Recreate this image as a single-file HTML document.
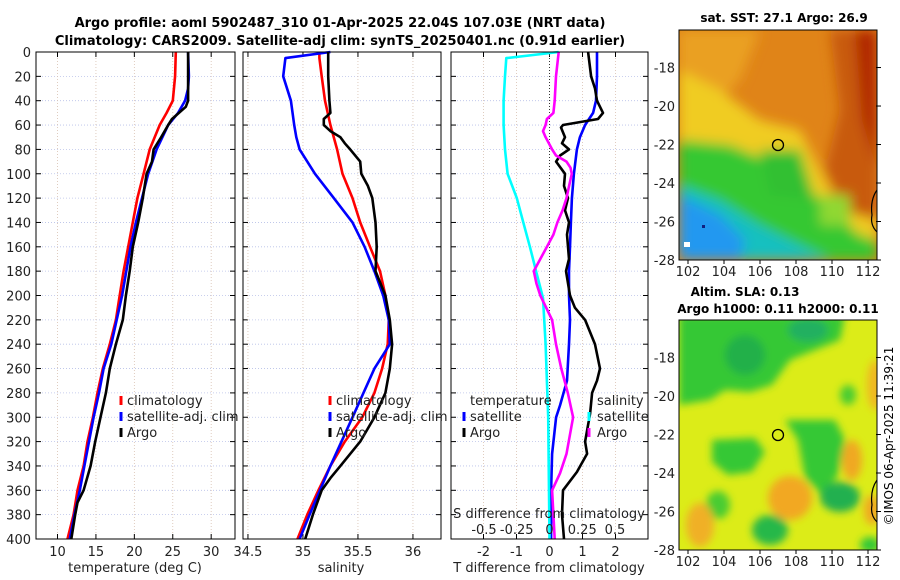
<!DOCTYPE html>
<html><head><meta charset="utf-8">
<style>
html,body{margin:0;padding:0;background:#fff;}
svg{display:block;font-family:"DejaVu Sans","Liberation Sans",sans-serif;}
</style></head>
<body>
<svg id="fig" width="900" height="580" viewBox="0 0 900 580" xmlns="http://www.w3.org/2000/svg">
<defs>
<filter id="blur6" x="-20%" y="-20%" width="140%" height="140%"><feGaussianBlur stdDeviation="6"/></filter>
<filter id="blur4" x="-20%" y="-20%" width="140%" height="140%"><feGaussianBlur stdDeviation="4"/></filter>
<clipPath id="clipM1"><rect x="679" y="30" width="198" height="230"/></clipPath>
<clipPath id="clipM2"><rect x="679" y="320" width="198" height="230"/></clipPath>
</defs>
<text x="340" y="27" font-size="13" font-weight="bold" text-anchor="middle">Argo profile: aoml 5902487_310 01-Apr-2025 22.04S 107.03E (NRT data)</text>
<text x="340" y="45" font-size="13" font-weight="bold" text-anchor="middle">Climatology: CARS2009. Satellite-adj clim: synTS_20250401.nc (0.91d earlier)</text>

<!-- SST map -->
<g clip-path="url(#clipM1)">
<rect x="679" y="30" width="198" height="230" fill="#e08418"/>
<g filter="url(#blur6)">
<polygon points="679,30 760,30 740,80 700,120 679,130" fill="#eaa020"/>
<polygon points="830,30 877,30 877,230 850,220 825,170 840,110" fill="#c85a10"/>
<polygon points="855,30 877,30 877,170 862,120" fill="#b02800"/>
<polygon points="679,70 720,90 760,120 800,130 840,210 877,220 877,250 679,250" fill="#f0cc20"/>
<polygon points="679,140 730,145 790,170 830,210 860,235 877,240 877,260 679,260" fill="#34c830"/>
<polygon points="760,150 800,150 815,200 770,195" fill="#30c030"/>
<polygon points="820,195 850,195 850,225 820,225" fill="#90d830"/>
<polygon points="679,185 720,200 760,225 800,245 830,260 679,260" fill="#18c0c0"/>
<polygon points="679,195 720,215 745,240 740,260 679,260" fill="#2098f0"/>
</g>
<rect x="684" y="242" width="6" height="5" fill="#fff"/>
<rect x="702" y="225" width="3" height="3" fill="#102080"/>
</g>
<rect x="679" y="30" width="198" height="230" fill="none" stroke="#000"/>
<path d="M877,190 Q870,200 872,215 Q870,225 877,232" fill="none" stroke="#000" stroke-width="1.2"/>
<circle cx="778" cy="145" r="5.5" fill="none" stroke="#000" stroke-width="1.3"/>
<text x="784" y="22" font-size="12" font-weight="bold" text-anchor="middle">sat. SST: 27.1 Argo: 26.9</text>

<!-- SLA map -->
<g clip-path="url(#clipM2)">
<rect x="679" y="320" width="198" height="230" fill="#dcec18"/>
<g filter="url(#blur4)">
<polygon points="679,315 845,315 840,340 810,352 790,360 772,385 750,392 725,390 710,400 679,405" fill="#34c834"/>
<ellipse cx="745" cy="355" rx="20" ry="20" fill="#22b048"/>
<ellipse cx="808" cy="330" rx="20" ry="12" fill="#20b060"/>
<polygon points="712,440 755,438 765,452 752,472 728,475 712,462" fill="#34c834"/>
<polygon points="785,420 835,420 845,440 838,475 822,495 805,478 798,440" fill="#34c834"/>
<ellipse cx="840" cy="497" rx="20" ry="15" fill="#22b050"/>
<ellipse cx="770" cy="530" rx="18" ry="15" fill="#28b848"/>
<ellipse cx="718" cy="505" rx="12" ry="14" fill="#48cc30"/>
<ellipse cx="848" cy="395" rx="8" ry="10" fill="#48cc30"/>
<ellipse cx="790" cy="498" rx="22" ry="22" fill="#f2a820"/>
<ellipse cx="700" cy="525" rx="14" ry="22" fill="#f0b028"/>
<ellipse cx="852" cy="460" rx="10" ry="20" fill="#f0a820"/>
<ellipse cx="875" cy="385" rx="8" ry="25" fill="#f0b820"/>
<ellipse cx="872" cy="510" rx="8" ry="15" fill="#f0a820"/>
<ellipse cx="870" cy="545" rx="10" ry="8" fill="#30c838"/>
</g>
</g>
<rect x="679" y="320" width="198" height="230" fill="none" stroke="#000"/>
<path d="M877,480 Q870,490 872,505 Q870,515 877,522" fill="none" stroke="#000" stroke-width="1.2"/>
<circle cx="778" cy="435" r="5.5" fill="none" stroke="#000" stroke-width="1.3"/>
<text x="745" y="296" font-size="12" font-weight="bold" text-anchor="middle">Altim. SLA: 0.13</text>
<text x="778" y="313" font-size="12" font-weight="bold" text-anchor="middle">Argo h1000: 0.11 h2000: 0.11</text>
<text transform="translate(893,436) rotate(-90)" font-size="12" text-anchor="middle">©IMOS 06-Apr-2025 11:39:21</text>

<g id="dyn"></g>
</svg>
<script>
// ---- data ----
const depthTicks = [0,20,40,60,80,100,120,140,160,180,200,220,240,260,280,300,320,340,360,380,400];
const tempTicks = [10,15,20,25,30];
const salTicks = [34.5,35,35.5,36];
const salTickLabels = ["34.5","35","35.5","36"];
const tdiffTicks = [-2,-1,0,1,2];
const sdiffTicks = [-0.5,-0.25,0,0.25,0.5];
const sdiffTickLabels = ["-0.5","-0.25","0","0.25","0.5"];
const lonTicks = [102,104,106,108,110,112];
const latTicks = [-18,-20,-22,-24,-26,-28];

const tClimDepth = [0,20,40,50,60,80,100,120,140,160,180,200,220,240,260,280,300,320,340,360,380,400];
const tClim = [25.4,25.3,25.0,24.2,23.3,22.0,21.2,20.4,19.8,19.2,18.6,18.1,17.6,16.8,15.9,15.2,14.6,13.9,13.4,12.6,12.1,11.3];
const tSatDepth = [0,20,30,40,50,60,80,100,120,140,160,200,240,260,280,300,340,360,380,400];
const tSat = [27.0,27.1,27.0,26.6,25.7,24.4,22.9,21.8,21.0,20.2,19.5,18.4,17.0,16.0,15.4,14.7,13.5,12.9,12.2,11.6];
const tArgoDepth = [0,40,45,55,60,70,80,90,100,120,140,160,180,200,220,240,260,280,300,320,340,360,370,380,400];
const tArgo = [27.0,27.0,26.7,24.9,24.4,23.5,22.5,22.3,21.6,21.1,20.5,19.8,19.4,18.9,18.5,17.6,16.8,16.3,15.6,14.9,14.3,13.4,12.6,12.3,11.8];

const sClimDepth = [0,5,20,40,60,80,100,120,140,160,180,200,220,240,260,280,300,320,340,360,380,400];
const sClim = [35.15,35.15,35.17,35.2,35.25,35.31,35.36,35.45,35.52,35.61,35.7,35.75,35.78,35.77,35.72,35.65,35.54,35.38,35.25,35.14,35.04,34.95];
const sSatDepth = [0,5,20,40,60,70,80,100,120,140,160,180,200,220,240,260,300,340,380,400];
const sSat = [35.25,34.84,34.82,34.89,34.92,34.94,34.97,35.11,35.28,35.45,35.56,35.65,35.73,35.78,35.79,35.65,35.45,35.25,35.06,34.97];
const sArgoDepth = [0,20,40,50,55,60,65,70,75,80,90,100,110,120,140,160,180,200,220,240,260,280,300,320,340,350,360,380,400];
const sArgo = [35.23,35.23,35.24,35.25,35.19,35.19,35.25,35.34,35.38,35.43,35.52,35.53,35.59,35.63,35.66,35.67,35.66,35.75,35.79,35.81,35.79,35.75,35.65,35.52,35.34,35.25,35.17,35.09,35.02];

const dTSatDepth = [0,20,40,50,60,70,80,100,120,140,160,180,200,220,240,270,290,300,330,360,400];
const dTSat = [1.44,1.44,1.41,1.32,1.08,0.92,0.83,0.74,0.68,0.65,0.62,0.59,0.59,0.62,0.59,0.53,0.32,0.2,0.08,0.05,0.05];
const dTArgoDepth = [0,20,30,40,45,50,55,60,62,70,75,80,85,90,100,110,120,130,140,150,160,170,180,190,200,210,220,240,260,270,280,297,320,330,345,360,380,400];
const dTArgo = [1.17,1.26,1.38,1.44,1.53,1.62,1.47,0.41,0.35,0.47,0.38,0.59,0.32,0.2,0.47,0.44,0.56,0.47,0.59,0.53,0.56,0.59,0.5,0.56,0.62,0.77,1.08,1.38,1.53,1.44,1.29,1.23,1.08,1.14,0.83,0.41,0.38,0.44];
const dSSatDepth = [0,5,20,40,60,80,100,120,140,160,181,202,240,300,400];
const dSSat = [0.07,-0.33,-0.34,-0.35,-0.35,-0.34,-0.32,-0.25,-0.2,-0.15,-0.1,-0.05,-0.03,-0.01,0.0];
const dSArgoDepth = [0,20,40,50,55,60,65,70,80,85,90,95,100,110,120,130,140,150,160,170,180,190,200,220,240,260,280,300,330,346,360,380,400];
const dSArgo = [0.07,0.05,0.04,0.03,-0.02,-0.03,-0.05,-0.03,0.02,0.05,0.13,0.16,0.17,0.15,0.13,0.1,0.06,0.03,-0.02,-0.07,-0.12,-0.1,-0.07,0.02,0.05,0.09,0.14,0.18,0.13,0.08,0.02,0.03,0.04];

// ---- axes ----
const Y0=52, Y1=539;
const yD = d => Y0 + (d/400)*(Y1-Y0);
const P1={x0:36,x1:235,lo:7.2,hi:33.1};
const P2={x0:243,x1:441,lo:34.455,hi:36.255};
const P3={x0:451,x1:648,lo:-2.985,hi:2.985};
const sx = (p,v) => p.x0 + (v-p.lo)/(p.hi-p.lo)*(p.x1-p.x0);
const sdx = v => 549.5 + v*131;
const lonX = lo => 679 + (lo-101.5)*18;
const latY1 = la => 30 + (-16.05-la)*(230/11.95);
const latY2 = la => 320 + (-16.05-la)*(230/11.95);

const NS="http://www.w3.org/2000/svg";
const dyn=document.getElementById('dyn');
function mk(tag, attrs, parent){
  const e=document.createElementNS(NS,tag);
  for(const k in attrs) e.setAttribute(k,attrs[k]);
  (parent||dyn).appendChild(e); return e;
}
function txt(s, x, y, size, anchor, parent){
  const t=mk('text',{x:x,y:y,'font-size':size,'text-anchor':anchor||'middle',fill:'#222'},parent);
  t.textContent=s; return t;
}

function panel(p, name){
  const g=mk('g',{});
  
  
  depthTicks.forEach(d=>{
    const l=mk('line',{x1:p.x0,x2:p.x1,y1:yD(d),y2:yD(d),stroke:'#b8c0e8','stroke-width':0.8,'stroke-dasharray':'1,2'},g);
    
    
    mk('line',{x1:p.x0,x2:p.x0+5,y1:yD(d),y2:yD(d),stroke:'#000'},g);
    mk('line',{x1:p.x1-5,x2:p.x1,y1:yD(d),y2:yD(d),stroke:'#000'},g);
  });
  return g;
}
function vgrid(g,x){
  const l=mk('line',{x1:x,x2:x,y1:Y0,y2:Y1,stroke:'#d8c0b0','stroke-width':0.8,'stroke-dasharray':'1,2'},g);
  
  
}
function frame(g,p){
  const r=mk('rect',{x:p.x0,y:Y0,width:p.x1-p.x0,height:Y1-Y0,fill:'none',stroke:'#000','stroke-width':1},g);
  
  
}
function series(xf, depths, vals, color, name, g){
  const pts=vals.map((v,i)=>xf(v).toFixed(1)+','+yD(depths[i]).toFixed(1)).join(' ');
  const pl=mk('polyline',{points:pts,fill:'none',stroke:color,'stroke-width':2.6,'stroke-linejoin':'round'},g);
  
  
}
function legendItem(g, mx, tx, y, color, label){
  const m=mk('line',{x1:mx,x2:mx,y1:y-9,y2:y,stroke:color,'stroke-width':3},g);
  
  
  const t=txt(label,tx,y,13,'start',g);
  
  
}

// Panel 1
const g1=panel(P1,'temperature-panel');
tempTicks.forEach(v=>{vgrid(g1,sx(P1,v));
  const t=txt(String(v),sx(P1,v),556,13,'middle',g1);
  
  
  mk('line',{x1:sx(P1,v),x2:sx(P1,v),y1:Y1,y2:Y1-5,stroke:'#000'},g1);
  mk('line',{x1:sx(P1,v),x2:sx(P1,v),y1:Y0,y2:Y0+5,stroke:'#000'},g1);
});
depthTicks.forEach(d=>{
  const t=txt(String(d),31,yD(d)+5,13,'end',g1);
  
  
});
series(v=>sx(P1,v),tClimDepth,tClim,'#f00','temperature-climatology-line',g1);
series(v=>sx(P1,v),tSatDepth,tSat,'#00f','temperature-satellite-line',g1);
series(v=>sx(P1,v),tArgoDepth,tArgo,'#000','temperature-argo-line',g1);
frame(g1,P1);
legendItem(g1,121,127,405,'#f00','climatology');
legendItem(g1,121,127,421,'#00f','satellite-adj. clim');
legendItem(g1,121,127,437,'#000','Argo');
let xt=txt('temperature (deg C)',135,572,13,'middle',g1);



// Panel 2
const g2=panel(P2,'salinity-panel');
salTicks.forEach((v,i)=>{vgrid(g2,sx(P2,v));
  const t=txt(salTickLabels[i],sx(P2,v),556,13,'middle',g2);
  
  
  mk('line',{x1:sx(P2,v),x2:sx(P2,v),y1:Y1,y2:Y1-5,stroke:'#000'},g2);
  mk('line',{x1:sx(P2,v),x2:sx(P2,v),y1:Y0,y2:Y0+5,stroke:'#000'},g2);
});
series(v=>sx(P2,v),sClimDepth,sClim,'#f00','salinity-climatology-line',g2);
series(v=>sx(P2,v),sSatDepth,sSat,'#00f','salinity-satellite-line',g2);
series(v=>sx(P2,v),sArgoDepth,sArgo,'#000','salinity-argo-line',g2);
frame(g2,P2);
legendItem(g2,330,336,405,'#f00','climatology');
legendItem(g2,330,336,421,'#00f','satellite-adj. clim');
legendItem(g2,330,336,437,'#000','Argo');
xt=txt('salinity',341,572,13,'middle',g2);



// Panel 3
const g3=panel(P3,'difference-panel');
tdiffTicks.forEach(v=>{vgrid(g3,sx(P3,v));
  const t=txt(String(v),sx(P3,v),556,13,'middle',g3);
  
  
  mk('line',{x1:sx(P3,v),x2:sx(P3,v),y1:Y1,y2:Y1-5,stroke:'#000'},g3);
  mk('line',{x1:sx(P3,v),x2:sx(P3,v),y1:Y0,y2:Y0+5,stroke:'#000'},g3);
});
const zl=mk('line',{x1:sx(P3,0),x2:sx(P3,0),y1:Y0,y2:Y1,stroke:'#333','stroke-width':1,'stroke-dasharray':'1,2'},g3);


series(v=>sx(P3,v),dTSatDepth,dTSat,'#00f','tdiff-satellite-line',g3);
series(v=>sx(P3,v),dTArgoDepth,dTArgo,'#000','tdiff-argo-line',g3);
series(sdx,dSSatDepth,dSSat,'#0ff','sdiff-satellite-line',g3);
series(sdx,dSArgoDepth,dSArgo,'#f0f','sdiff-argo-line',g3);
frame(g3,P3);
let lt=txt('temperature',470,405,13,'start',g3);


legendItem(g3,464,470,421,'#00f','satellite');
legendItem(g3,464,470,437,'#000','Argo');
lt=txt('salinity',597,405,13,'start',g3);


legendItem(g3,589,597,421,'#0ff','satellite');
legendItem(g3,589,597,437,'#f0f','Argo');
lt=txt('S difference from climatology',549,518,13,'middle',g3);


sdiffTicks.forEach((v,i)=>{
  const t=txt(sdiffTickLabels[i],sdx(v),534,13,'middle',g3);
  
  
});
xt=txt('T difference from climatology',549,572,13,'middle',g3);



// Map ticks
function mapAxes(latY, yb, name){
  const g=mk('g',{});
  
  
  lonTicks.forEach(v=>{
    const t=txt(String(v),lonX(v),yb+16,13,'middle',g);
    
    
    mk('line',{x1:lonX(v),x2:lonX(v),y1:yb,y2:yb+4,stroke:'#000'},g);
  });
  latTicks.forEach(v=>{
    const t=txt(String(v),675,latY(v)+5,13,'end',g);
    
    
    mk('line',{x1:876,x2:881,y1:latY(v),y2:latY(v),stroke:'#000'},g);
  });
}
mapAxes(latY1,260,'sst-map-axes');
mapAxes(latY2,550,'sla-map-axes');
</script>
</body></html>
